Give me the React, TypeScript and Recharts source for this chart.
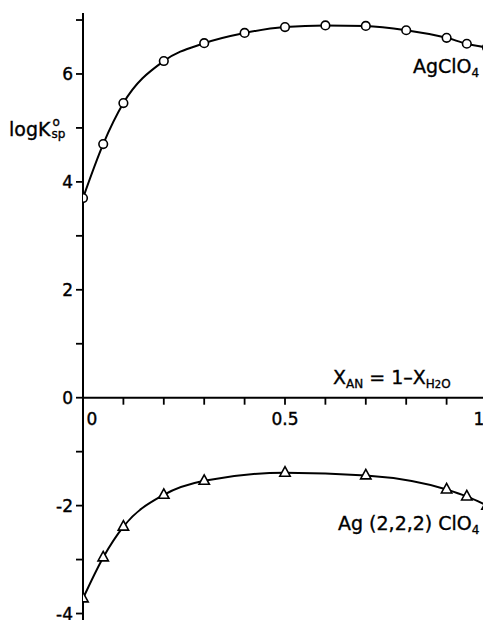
import { LineChart, Line, XAxis, YAxis, ReferenceLine, ReferenceDot } from "recharts";

// x = X_AN (mole fraction of acetonitrile)
const agX = [0, 0.05, 0.1, 0.2, 0.3, 0.4, 0.5, 0.6, 0.7, 0.8, 0.9, 0.95, 1.0];
const agY = [3.7, 4.7, 5.46, 6.24, 6.57, 6.76, 6.87, 6.9, 6.89, 6.81, 6.67, 6.56, 6.49];

const cryptX = [0, 0.05, 0.1, 0.2, 0.3, 0.5, 0.7, 0.9, 0.95, 1.0];
const cryptY = [-3.72, -2.96, -2.39, -1.8, -1.54, -1.39, -1.44, -1.7, -1.83, -2.0];

const xTicks = [0, 0.1, 0.2, 0.3, 0.4, 0.5, 0.6, 0.7, 0.8, 0.9, 1.0];
const xTickLabels: Record<string, string> = { "0": "0", "0.5": "0.5", "1": "1" };
const yTicks = [-4, -3, -2, -1, 0, 1, 2, 3, 4, 5, 6, 7];

const agData = agX.map((x, i) => ({ x, y: agY[i] }));
const cryptData = cryptX.map((x, i) => ({ x, y: cryptY[i] }));

const FONT = "'DejaVu Sans', sans-serif";

const circleDot = (p: any) => (
  <circle key={`c-${p.index}`} cx={p.cx} cy={p.cy} r={4.3} fill="#fff" stroke="#000" strokeWidth={1.6} />
);

const triangleDot = (p: any) => (
  <path
    key={`t-${p.index}`}
    d={`M${p.cx},${p.cy - 6} L${p.cx + 5.2},${p.cy + 3.5} L${p.cx - 5.2},${p.cy + 3.5} Z`}
    fill="#fff"
    stroke="#000"
    strokeWidth={1.6}
  />
);

const xTickShape = (v: number) => (p: any) => {
  const label = xTickLabels[String(v)];
  let dx = 0;
  if (v === 0) dx = 9;
  if (v === 1) dx = -8;
  return (
    <g>
      {v !== 0 && <line x1={p.cx} y1={p.cy} x2={p.cx} y2={p.cy + 7} stroke="#000" strokeWidth={1.8} />}
      {label && (
        <text x={p.cx + dx} y={p.cy + 27} textAnchor="middle" fontSize={17} fontFamily={FONT} fill="#000" stroke="#000" strokeWidth={0.4}>
          {label}
        </text>
      )}
    </g>
  );
};

const txt: React.CSSProperties = {
  position: "absolute",
  fontFamily: FONT,
  fontSize: 19,
  lineHeight: 1,
  color: "#000",
  whiteSpace: "nowrap",
  WebkitTextStroke: "0.35px #000",
};
const sub: React.CSSProperties = { fontSize: 12, position: "relative", top: 4 };

export default function App() {
  return (
    <div style={{ position: "absolute", left: 0, top: 0, width: 483, height: 620, overflow: "hidden", background: "#fff" }}>
      <LineChart width={490} height={620} margin={{ top: 13, right: 3, bottom: 0, left: 0 }}>
        <XAxis type="number" dataKey="x" domain={[0, 1]} allowDataOverflow hide />
        <YAxis
          type="number"
          dataKey="y"
          domain={[-4.12, 7.13]}
          allowDataOverflow
          ticks={yTicks}
          interval={0}
          width={83}
          tickSize={7}
          tickMargin={3}
          tickFormatter={(v: number) => (v % 2 === 0 ? String(v) : "")}
          tick={{ fill: "#000", fontSize: 17, fontFamily: FONT, stroke: "#000", strokeWidth: 0.4 }}
          axisLine={{ stroke: "#000", strokeWidth: 2 }}
          tickLine={{ stroke: "#000", strokeWidth: 1.8 }}
        />
        <ReferenceLine y={0} stroke="#000" strokeWidth={2} />
        {xTicks.map((v) => (
          <ReferenceDot key={v} x={v} y={0} r={0} shape={xTickShape(v)} />
        ))}
        <Line data={agData} dataKey="y" type="monotone" stroke="#000" strokeWidth={2} dot={circleDot} isAnimationActive={false} />
        <Line data={cryptData} dataKey="y" type="monotone" stroke="#000" strokeWidth={2} dot={triangleDot} isAnimationActive={false} />
      </LineChart>

      <div style={{ ...txt, left: 9, top: 120 }}>
        logK
        <span style={{ display: "inline-block", position: "relative", width: 16, height: 14 }}>
          <span style={{ position: "absolute", left: 2, top: -6, fontSize: 12 }}>o</span>
          <span style={{ position: "absolute", left: 1, top: 6, fontSize: 12 }}>sp</span>
        </span>
      </div>
      <div style={{ ...txt, left: 413, top: 57 }}>
        AgClO<span style={sub}>4</span>
      </div>
      <div style={{ ...txt, left: 333, top: 368 }}>
        X<span style={sub}>AN</span> = 1–X<span style={sub}>H</span><span style={{ ...sub, fontSize: 10 }}>2</span><span style={sub}>O</span>
      </div>
      <div style={{ ...txt, left: 338, top: 514 }}>
        Ag (2,2,2) ClO<span style={sub}>4</span>
      </div>
    </div>
  );
}
